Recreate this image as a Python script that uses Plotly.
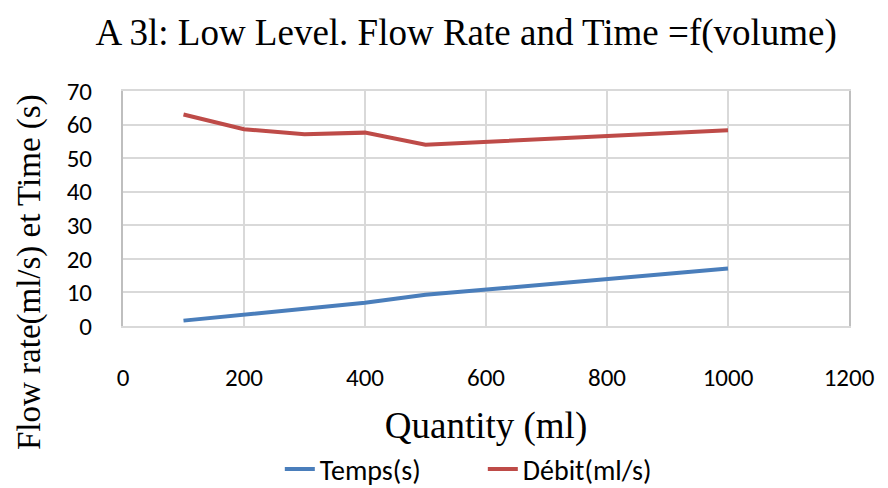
import plotly.graph_objects as go

quantity = [100, 200, 300, 400, 500, 600, 700, 800, 900, 1000]
temps = [1.6, 3.4, 5.2, 6.9, 9.3, 10.9, 12.4, 13.9, 15.5, 17.1]
debit = [63.0, 58.6, 57.1, 57.6, 54.0, 54.9, 55.7, 56.6, 57.4, 58.3]

fig = go.Figure()
fig.add_trace(go.Scatter(x=quantity, y=temps, mode="lines", name="Temps(s)",
                         line=dict(color="#4A7EBB", width=4)))
fig.add_trace(go.Scatter(x=quantity, y=debit, mode="lines", name="Débit(ml/s)",
                         line=dict(color="#BE4B48", width=4)))

serif = "Liberation Serif, Times New Roman, serif"
sans = "Carlito, Liberation Sans, Arial, sans-serif"

fig.update_layout(
    width=888, height=488,
    margin=dict(l=123, r=39, t=91, b=162, autoexpand=False),
    paper_bgcolor="white", plot_bgcolor="white",
    title=dict(text="A 3l: Low Level. Flow Rate and Time =f(volume)",
               x=0.525, xanchor="center", y=0.935, yanchor="middle",
               font=dict(family=serif, size=37, color="black")),
    xaxis=dict(range=[0, 1200], dtick=200, showgrid=True, gridcolor="#D9D9D9", gridwidth=2,
               zeroline=False, showline=True, linecolor="#D9D9D9", linewidth=2, mirror=True,
               ticks="", ticklabelstandoff=28, automargin=False,
               tickfont=dict(family=sans, size=25, color="black"),
               title=dict(text="Quantity (ml)", font=dict(family=serif, size=37, color="black"),
                          standoff=20)),
    yaxis=dict(range=[0, 70], dtick=10, showgrid=True, gridcolor="#D9D9D9", gridwidth=2,
               zeroline=False, showline=True, linecolor="#BFBFBF", linewidth=2, mirror=True,
               ticks="", ticklabelstandoff=24, automargin=False,
               tickfont=dict(family=sans, size=25, color="black")),
    legend=dict(orientation="h", x=0.216, xanchor="left", y=-0.61, yanchor="middle",
                font=dict(family=sans, size=28, color="black"),
                entrywidth=158, entrywidthmode="pixels"),
    showlegend=True,
)

fig.add_annotation(text="Flow rate(ml/s) et Time (s)", textangle=-90,
                   xref="paper", yref="paper", x=-0.128, y=0.23,
                   xanchor="center", yanchor="middle", showarrow=False,
                   font=dict(family=serif, size=33, color="black"))

fig.write_html("out.html")
